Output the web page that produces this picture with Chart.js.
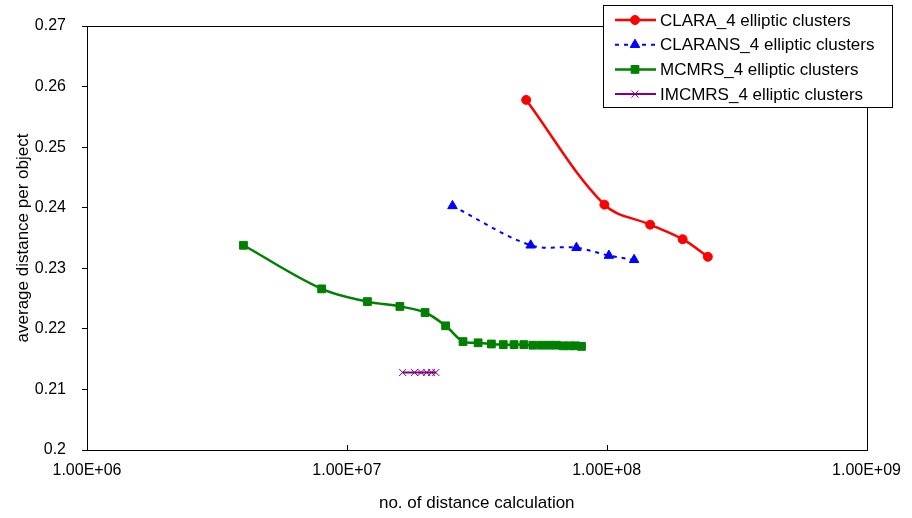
<!DOCTYPE html>
<html>
<head>
<meta charset="utf-8">
<script src="https://cdn.jsdelivr.net/npm/chart.js@4/dist/chart.umd.min.js"></script>
<style>
  html, body { margin: 0; padding: 0; background: #fff; }
  #chart { display: block; }
</style>
</head>
<body>
<canvas id="chart" width="912" height="518"></canvas>
<script>
// values
const CLARA_CALCS = [4.9e7, 9.8e7, 1.47e8, 1.96e8, 2.45e8];
const CLARA_DIST = [0.2578, 0.2405, 0.2372, 0.2348, 0.2319];

const CLARANS_CALCS = [2.55e7, 5.1e7, 7.65e7, 1.02e8, 1.275e8];
const CLARANS_DIST = [0.2403, 0.2338, 0.2334, 0.2321, 0.2314];

const MCMRS_CALCS = [4e6, 8e6, 1.2e7, 1.6e7, 2e7, 2.4e7, 2.8e7, 3.2e7, 3.6e7, 4e7,
  4.4e7, 4.8e7, 5.2e7, 5.6e7, 6e7, 6.4e7, 6.8e7, 7.2e7, 7.6e7, 8e7];
const MCMRS_DIST = [0.2338, 0.2266, 0.2245, 0.2237, 0.2227, 0.2205, 0.2179, 0.2177, 0.2175, 0.2174,
  0.2174, 0.2174, 0.2173, 0.2173, 0.2173, 0.2173, 0.2172, 0.2172, 0.2172, 0.2171];

const IMCMRS_CALCS = [1.64e7, 1.82e7, 1.93e7, 2.03e7, 2.12e7, 2.2e7];
const IMCMRS_DIST = [0.2128, 0.2128, 0.2128, 0.2128, 0.2128, 0.2128];

const X_TICKS = [1e6, 1e7, 1e8, 1e9];
const X_TICK_LABELS = ["1.00E+06", "1.00E+07", "1.00E+08", "1.00E+09"];

const SERIES_NAMES = ["CLARA_4 elliptic clusters", "CLARANS_4 elliptic clusters", "MCMRS_4 elliptic clusters", "IMCMRS_4 elliptic clusters"];

const FONT = "'Liberation Sans', Arial, sans-serif";

function toPoints(xs, ys) {
  return xs.map((x, i) => ({ x, y: ys[i] }));
}

// plot frame + inward x ticks
const frame = {
  id: "frame",
  afterDraw(chart) {
    const { ctx, chartArea: a, scales } = chart;
    ctx.save();
    ctx.strokeStyle = "#000";
    ctx.lineWidth = 1;
    ctx.strokeRect(Math.round(a.left) + 0.5, Math.round(a.top) + 0.5, Math.round(a.right - a.left), Math.round(a.bottom - a.top));
    ctx.beginPath();
    X_TICKS.forEach((v) => {
      const px = Math.round(scales.x.getPixelForValue(v)) + 0.5;
      ctx.moveTo(px, a.bottom);
      ctx.lineTo(px, a.bottom - 5);
    });
    ctx.stroke();
    ctx.restore();
  },
};

// boxed legend sitting over the top right corner
const boxLegend = {
  id: "boxLegend",
  afterDraw(chart) {
    const { ctx } = chart;
    const box = { x: 603.5, y: 5.5, w: 289, h: 102 };
    ctx.save();
    ctx.fillStyle = "#fff";
    ctx.fillRect(box.x, box.y, box.w, box.h);
    ctx.strokeStyle = "#000";
    ctx.lineWidth = 1;
    ctx.strokeRect(box.x, box.y, box.w, box.h);

    chart.data.datasets.forEach((ds, i) => {
      const y = 20 + i * 24.7;
      ctx.strokeStyle = ds.borderColor;
      ctx.lineWidth = ds.borderWidth;
      ctx.setLineDash(ds.borderDash || []);
      ctx.beginPath();
      ctx.moveTo(615, y);
      ctx.lineTo(656, y);
      ctx.stroke();
      ctx.setLineDash([]);
      ctx.fillStyle = ds.pointBackgroundColor;
      ctx.strokeStyle = ds.pointBorderColor;
      ctx.lineWidth = ds.pointBorderWidth;
      Chart.helpers.drawPoint(ctx, { pointStyle: ds.pointStyle, radius: ds.pointRadius, rotation: 0, borderWidth: ds.pointBorderWidth }, 635, y);

      ctx.fillStyle = "#000";
      ctx.font = `17px ${FONT}`;
      ctx.textBaseline = "middle";
      ctx.fillText(SERIES_NAMES[i], 660, y + 1);
    });
    ctx.restore();
  },
};

new Chart(document.getElementById("chart"), {
  type: "scatter",
  data: {
    datasets: [
      {
        label: SERIES_NAMES[0],
        data: toPoints(CLARA_CALCS, CLARA_DIST),
        showLine: true,
        borderColor: "#ff0000",
        borderWidth: 2.5,
        tension: 0.35,
        pointStyle: "circle",
        pointRadius: 4.5,
        pointBackgroundColor: "#ff0000",
        pointBorderColor: "#ff0000",
        pointBorderWidth: 1,
      },
      {
        label: SERIES_NAMES[1],
        data: toPoints(CLARANS_CALCS, CLARANS_DIST),
        showLine: true,
        borderColor: "#0000ff",
        borderWidth: 2,
        borderDash: [4, 5],
        tension: 0.35,
        pointStyle: "triangle",
        pointRadius: 5.5,
        pointBackgroundColor: "#0000ff",
        pointBorderColor: "#0000ff",
        pointBorderWidth: 1,
      },
      {
        label: SERIES_NAMES[2],
        data: toPoints(MCMRS_CALCS, MCMRS_DIST),
        showLine: true,
        borderColor: "#008000",
        borderWidth: 2.5,
        tension: 0.35,
        pointStyle: "rect",
        pointRadius: 5.5,
        pointBackgroundColor: "#008000",
        pointBorderColor: "#008000",
        pointBorderWidth: 1,
      },
      {
        label: SERIES_NAMES[3],
        data: toPoints(IMCMRS_CALCS, IMCMRS_DIST),
        showLine: true,
        borderColor: "#800080",
        borderWidth: 2,
        tension: 0.35,
        pointStyle: "crossRot",
        pointRadius: 5,
        pointBackgroundColor: "#800080",
        pointBorderColor: "#800080",
        pointBorderWidth: 1,
      },
    ],
  },
  options: {
    responsive: false,
    animation: false,
    layout: { padding: { left: 0, top: 26, right: 42, bottom: 0 } },
    plugins: {
      legend: { display: false },
      tooltip: { enabled: false },
    },
    scales: {
      x: {
        type: "logarithmic",
        min: 1e6,
        max: 1e9,
        afterBuildTicks: (scale) => { scale.ticks = X_TICKS.map((v) => ({ value: v, major: true })); },
        afterFit: (scale) => { scale.height = 68; },
        grid: { drawOnChartArea: false, drawTicks: false },
        border: { color: "#000", width: 1 },
        ticks: {
          color: "#000",
          font: { family: FONT, size: 16 },
          padding: 11,
          maxRotation: 0,
          autoSkip: false,
          callback: (v) => X_TICK_LABELS[X_TICKS.indexOf(v)] ?? "",
        },
        title: {
          display: true,
          text: "no. of distance calculation",
          color: "#000",
          font: { family: FONT, size: 17 },
          padding: { top: 0, bottom: 4 },
        },
      },
      y: {
        min: 0.2,
        max: 0.27,
        afterFit: (scale) => { scale.width = 87; },
        grid: { drawOnChartArea: false, drawTicks: true, tickLength: 5, color: "#000" },
        border: { color: "#000", width: 1 },
        ticks: {
          stepSize: 0.01,
          color: "#000",
          font: { family: FONT, size: 16 },
          padding: 16,
          callback: (v) => String(Number(v.toFixed(2))),
        },
        title: {
          display: true,
          text: "average distance per object",
          color: "#000",
          font: { family: FONT, size: 17 },
          padding: { top: 13, bottom: 0 },
        },
      },
    },
  },
  plugins: [frame, boxLegend],
});
</script>
</body>
</html>
